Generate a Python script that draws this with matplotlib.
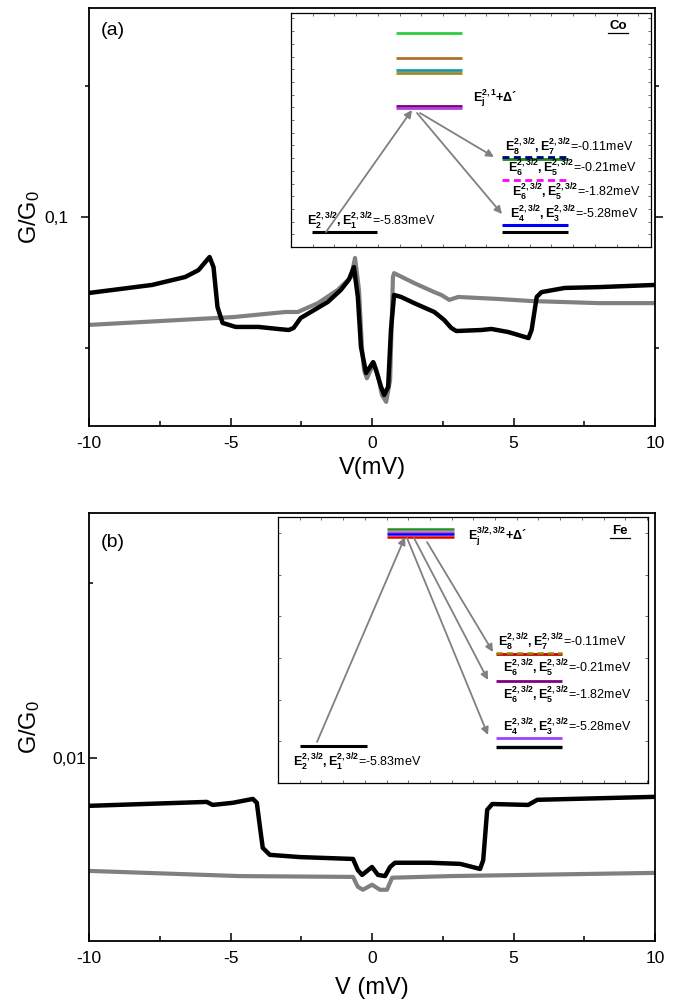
import numpy as np
import matplotlib
matplotlib.use("Agg")
import matplotlib.pyplot as plt
from matplotlib.ticker import FixedLocator, NullFormatter, MultipleLocator

plt.rcParams['font.family'] = ['Liberation Sans', 'DejaVu Sans']
plt.rcParams['mathtext.fontset'] = 'custom'
plt.rcParams['mathtext.rm'] = 'Liberation Sans'
plt.rcParams['mathtext.it'] = 'Liberation Sans:italic'
plt.rcParams['mathtext.bf'] = 'Liberation Sans:bold'
plt.rcParams['mathtext.sf'] = 'Liberation Sans'

# ---- conductance curves, panel (a): Co ----
va_black = [-10, -7.77, -6.60, -6.13, -5.74, -5.60, -5.46, -5.28, -4.82, -4.01,
            -3.33, -2.94, -2.77, -2.52, -2.16, -1.56, -1.10, -0.82, -0.64, -0.50,
            -0.39, -0.21, 0.04, 0.14, 0.32, 0.43, 0.57, 0.67, 0.78, 1.03,
            1.49, 2.20, 2.55, 2.80, 2.98, 3.87, 4.22, 4.82, 5.53, 5.64,
            5.82, 5.99, 6.81, 8.01, 10]
ga_black = [0.0669, 0.0698, 0.0728, 0.0755, 0.0809, 0.0767, 0.0621, 0.0571, 0.0559, 0.0559,
            0.0553, 0.0550, 0.0556, 0.0586, 0.0605, 0.0638, 0.0680, 0.0717, 0.0767, 0.0655,
            0.0503, 0.0438, 0.0464, 0.0445, 0.0407, 0.0390, 0.0407, 0.0550, 0.0662, 0.0655,
            0.0634, 0.0605, 0.0580, 0.0556, 0.0547, 0.0550, 0.0553, 0.0544, 0.0527, 0.0550,
            0.0655, 0.0672, 0.0687, 0.0690, 0.0698]
va_gray = [-10, -4.89, -3.05, -2.62, -1.91, -1.21, -0.74, -0.60, -0.46, -0.35,
           -0.28, -0.18, 0.07, 0.21, 0.35, 0.50, 0.64, 0.74, 0.78, 1.49,
           2.20, 2.45, 2.73, 3.05, 4.47, 5.64, 8.01, 10]
ga_gray = [0.0565, 0.0589, 0.0605, 0.0605, 0.0634, 0.0680, 0.0728, 0.0805, 0.0680, 0.0495,
           0.0445, 0.0426, 0.0462, 0.0433, 0.0390, 0.0376, 0.0422, 0.0728, 0.0743, 0.0705,
           0.0672, 0.0662, 0.0645, 0.0655, 0.0648, 0.0641, 0.0634, 0.0634]

# ---- conductance curves, panel (b): Fe ----
vb_black = [-10, -5.84, -5.63, -4.92, -4.21, -4.07, -3.96, -3.86, -3.61, -2.55,
            -0.67, -0.50, -0.35, 0.0, 0.21, 0.46, 0.64, 0.81, 2.05, 3.12,
            3.82, 3.93, 4.07, 4.25, 5.52, 5.84, 10]
gb_black = [0.00827, 0.00840, 0.00830, 0.00837, 0.00850, 0.00837, 0.00761, 0.00700, 0.00681, 0.00675,
            0.00670, 0.00641, 0.00629, 0.00649, 0.00629, 0.00626, 0.00649, 0.00660, 0.00660, 0.00657,
            0.00644, 0.00667, 0.00814, 0.00833, 0.00830, 0.00847, 0.00857]
vb_gray = [-10, -4.67, -0.67, -0.50, -0.32, 0.0, 0.28, 0.53, 0.71, 2.76, 10]
gb_gray = [0.00639, 0.00626, 0.00624, 0.00600, 0.00593, 0.00605, 0.00593, 0.00593, 0.00622,
           0.00626, 0.00634]

# ---- level scheme texts ----
energies = ["-0.11", "-0.21", "-1.82", "-5.28"]
pairs = [(8, 7), (6, 5), (6, 5), (4, 3)]
ground_energy = "-5.83"

W, H = 682, 1001
fig = plt.figure(figsize=(W / 100, H / 100), dpi=100)


def px_axes(l, t, r, b):
    return fig.add_axes([l / W, 1 - b / H, (r - l) / W, (b - t) / H])


def level_label(i, j, e):
    return r"$\mathbf{E_{%d}^{2,3/2},E_{%d}^{2,3/2}}$=%smeV" % (i, j, e)


def style_main(ax, ylim, major, major_lbl, minor, ydir, ypad):
    ax.set_yscale('log')
    ax.set_xlim(-10, 10)
    ax.set_ylim(*ylim)
    ax.xaxis.set_major_locator(MultipleLocator(5))
    ax.xaxis.set_minor_locator(MultipleLocator(2.5))
    ax.set_xticks([-10, -5, 0, 5, 10])
    ax.set_xticklabels(['-10', '-5', '0', '5', '10'])
    ax.yaxis.set_major_locator(FixedLocator([major]))
    ax.set_yticklabels([major_lbl])
    ax.yaxis.set_minor_locator(FixedLocator(minor))
    ax.yaxis.set_minor_formatter(NullFormatter())
    ax.tick_params(axis='x', which='major', direction='in', length=6, width=1.1,
                   labelsize=12.5, pad=7)
    ax.tick_params(axis='x', which='minor', direction='in', length=3.5, width=1.1)
    ax.tick_params(axis='y', which='major', direction=ydir, length=5.5, width=1.1,
                   labelsize=12.5, pad=ypad)
    ax.tick_params(axis='y', which='minor', direction=ydir, length=3, width=1.1)
    for s in ax.spines.values():
        s.set_linewidth(1.3)
    ax.set_ylabel(r'G/G$_0$', fontsize=17)
    ax.yaxis.set_label_coords(-0.083, 0.5)


# ================= panel (a) =================
ax_a = px_axes(89, 8, 655, 426)
ax_a.plot(va_gray, ga_gray, color='#808080', lw=3.0, solid_joinstyle='round')
ax_a.plot(va_black, ga_black, color='black', lw=3.2, solid_joinstyle='round')
style_main(ax_a, (0.0331, 0.302), 0.1, '0,1', [0.05, 0.2], 'out', 9)
ax_a.tick_params(axis='y', which='both', right=True)
ax_a.set_xlabel('V(mV)', fontsize=17)
ax_a.xaxis.set_label_coords(0.5, -0.075)
ax_a.text(0.02, 0.945, '(a)', transform=ax_a.transAxes, fontsize=14, va='center')

# ================= panel (b) =================
ax_b = px_axes(89, 513, 655, 941)
ax_b.plot(vb_gray, gb_gray, color='#808080', lw=3.0, solid_joinstyle='round')
ax_b.plot(vb_black, gb_black, color='black', lw=3.2, solid_joinstyle='round')
style_main(ax_b, (0.00484, 0.0264), 0.01, '0,01', [0.02], 'in', 2)
ax_b.set_xlabel('V (mV)', fontsize=17)
ax_b.xaxis.set_label_coords(0.5, -0.085)
ax_b.text(0.02, 0.93, '(b)', transform=ax_b.transAxes, fontsize=14, va='center')


def style_inset(ax, w, h, ystep):
    ax.set_xlim(0, w)
    ax.set_ylim(0, h)
    ax.xaxis.set_major_locator(MultipleLocator(21.7))
    ax.yaxis.set_major_locator(MultipleLocator(ystep))
    ax.tick_params(which='both', direction='in', length=2.5, width=0.6, colors='#555555',
                   labelleft=False, labelbottom=False, top=True, right=True)
    for s in ax.spines.values():
        s.set_linewidth(0.9)


def arrow(ax, tail, tip):
    ax.annotate('', xy=tip, xytext=tail,
                arrowprops=dict(arrowstyle='-|>', color='#808080', lw=1.3,
                                mutation_scale=11, shrinkA=0, shrinkB=0))


# ---------- inset (a): Co levels ----------
ia = px_axes(291, 13, 651, 247)
style_inset(ia, 360, 234, 12.7)
co_top_y = [214, 189, 177, 174, 141, 139]
co_top_c = ['#2ecc40', '#b0702a', '#1f9a9a', '#9a8a30', '#7a007a', '#b040e0']
for y, c in zip(co_top_y, co_top_c):
    ia.plot([105, 171], [y, y], color=c, lw=2.0, solid_capstyle='butt')
ia.text(182, 149, r"$\mathbf{E_j^{2,1}}$+Δ´", fontsize=9, fontweight='bold', va='center')
ia.text(327, 221, 'Co', fontsize=9.5, fontweight='bold', ha='center', va='center')
ia.plot([317, 337], [214, 214], color='black', lw=0.9)
ia.plot([21, 86], [15, 15], color='black', lw=2.2, solid_capstyle='butt')
ia.text(16, 26, level_label(2, 1, ground_energy), fontsize=9, va='center')
arrow(ia, (35, 15), (121, 137))
arrow(ia, (129, 134), (203, 90))
arrow(ia, (126, 134), (211, 33))
ia.plot([211, 277], [88, 88], color='#1a8a1a', lw=2.0, solid_capstyle='butt')
ia.plot([211, 277], [90, 90], color='#000080', lw=2.0, dashes=(2.5, 1.6))
ia.plot([211, 277], [67, 67], color='#ff00ff', lw=2.0, dashes=(2.5, 1.6))
ia.plot([211, 277], [22, 22], color='#0000ff', lw=2.2, solid_capstyle='butt')
ia.plot([211, 277], [15, 15], color='black', lw=2.2, solid_capstyle='butt')
for (i, j), e, x, y in zip(pairs, energies, [214, 217, 221, 219], [100, 79, 55, 33]):
    ia.text(x, y, level_label(i, j, e), fontsize=9, va='center')

# ---------- inset (b): Fe levels ----------
ib = px_axes(278, 517, 648, 783)
style_inset(ib, 370, 266, 41.7)
fe_top_y = [254, 251.5, 249, 246]
fe_top_c = ['#209020', '#cc44cc', '#0000ff', '#dd0000']
for y, c in zip(fe_top_y, fe_top_c):
    ib.plot([109, 176], [y, y], color=c, lw=1.8, solid_capstyle='butt')
ib.text(190, 246, r"$\mathbf{E_j^{3/2,3/2}}$+Δ´", fontsize=9, fontweight='bold', va='center')
ib.text(342, 252, 'Fe', fontsize=9.5, fontweight='bold', ha='center', va='center')
ib.plot([332, 352], [245, 245], color='black', lw=0.9)
ib.plot([22, 89], [37, 37], color='black', lw=2.2, solid_capstyle='butt')
ib.text(15, 21, level_label(2, 1, ground_energy), fontsize=9, va='center')
arrow(ib, (39, 41), (127, 246))
arrow(ib, (129, 245), (210, 48))
arrow(ib, (136, 245), (210, 103))
arrow(ib, (149, 241), (215, 131))
ib.plot([218, 284], [129, 129], color='#cc0000', lw=2.0, solid_capstyle='butt')
ib.plot([218, 284], [130.5, 130.5], color='#8b8b00', lw=1.8, dashes=(2.5, 1.6))
ib.plot([218, 284], [102, 102], color='#800080', lw=2.0, solid_capstyle='butt')
ib.plot([218, 284], [45, 45], color='#a040ff', lw=2.0, solid_capstyle='butt')
ib.plot([218, 284], [36, 36], color='black', lw=2.4, solid_capstyle='butt')
for (i, j), e, x, y in zip(pairs, energies, [220, 225, 225, 225], [141, 115, 88, 56]):
    ib.text(x, y, level_label(i, j, e), fontsize=9, va='center')

fig.savefig('out.png', dpi=100)
